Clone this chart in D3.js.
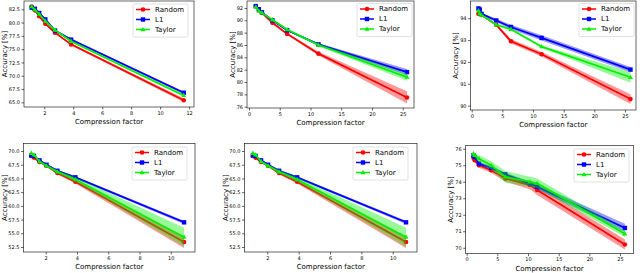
<!DOCTYPE html>
<html>
<head>
<meta charset="utf-8">
<script src="https://cdn.jsdelivr.net/npm/d3@7"></script>
<style>
  body { margin: 0; background: #fff; }
  svg text { font-family: "DejaVu Sans", sans-serif; }
</style>
</head>
<body>
<div class="chart"></div>
<script>
// ---- data ----
const seriesNames = ["Random", "L1", "Taylor"];

// top-left panel
const xA = [1.13, 1.35, 1.65, 2.07, 2.74, 3.85, 11.63];
const randomA = [83.0, 82.3, 81.2, 79.8, 78.1, 75.9, 65.4];
const l1A = [82.8, 82.6, 81.8, 80.6, 78.5, 76.8, 66.8];
const taylorA = [83.0, 82.4, 81.6, 80.3, 78.6, 76.5, 66.3];
const randomErrA = [0.2, 0.2, 0.2, 0.2, 0.2, 0.2, 0.35];
const l1ErrA = [0.2, 0.2, 0.2, 0.2, 0.2, 0.2, 0.25];
const taylorErrA = [0.15, 0.15, 0.15, 0.15, 0.15, 0.15, 0.25];

// top-middle panel
const xB = [1.1, 1.6, 2.1, 3.8, 6.2, 11.3, 25.7];
const randomB = [92.3, 91.6, 91.2, 89.6, 87.8, 84.6, 77.5];
const l1B = [92.3, 91.8, 91.3, 90.0, 88.4, 86.1, 81.6];
const taylorB = [92.2, 91.5, 91.2, 90.1, 88.5, 86.0, 80.8];
const randomErrB = [0.1, 0.1, 0.1, 0.15, 0.2, 0.3, 1.0];
const l1ErrB = [0.1, 0.1, 0.1, 0.1, 0.15, 0.2, 0.5];
const taylorErrB = [0.1, 0.1, 0.1, 0.1, 0.15, 0.2, 0.6];

// top-right panel
const xC = [1.1, 1.3, 1.6, 4.0, 6.4, 11.4, 25.9];
const randomC = [94.2, 94.4, 94.15, 93.7, 92.95, 92.35, 90.3];
const l1C = [94.45, 94.4, 94.2, 93.9, 93.6, 93.1, 91.65];
const taylorC = [94.35, 94.2, 94.15, 93.7, 93.5, 92.7, 91.3];
const randomErrC = [0.05, 0.05, 0.05, 0.06, 0.1, 0.1, 0.22];
const l1ErrC = [0.05, 0.05, 0.05, 0.08, 0.1, 0.12, 0.12];
const taylorErrC = [0.03, 0.03, 0.03, 0.05, 0.05, 0.05, 0.25];

// bottom-left and bottom-middle panels (same data)
const xD = [1.08, 1.25, 1.6, 2.05, 2.75, 3.9, 10.85];
const randomD = [69.1, 68.8, 68.0, 67.3, 66.0, 64.4, 53.4];
const l1D = [69.2, 69.1, 68.3, 67.5, 66.4, 65.2, 57.0];
const taylorD = [69.6, 69.3, 68.1, 67.3, 66.2, 64.8, 54.3];
const randomErrD = [0.2, 0.2, 0.2, 0.2, 0.3, 0.3, 1.1];
const l1ErrD = [0.2, 0.2, 0.2, 0.2, 0.2, 0.2, 0.3];
const taylorErrD = [0.2, 0.2, 0.2, 0.2, 0.3, 0.4, 1.7];

// bottom-right panel
const xF = [1.1, 1.3, 2.0, 4.0, 6.3, 10.3, 11.5, 25.8];
const randomF = [75.45, 75.3, 75.0, 74.7, 74.2, 73.8, 73.5, 70.2];
const l1F = [75.6, 75.5, 75.1, 74.85, 74.45, 73.9, 73.7, 71.2];
const taylorF = [75.7, 75.6, 75.4, 75.0, 74.3, 74.0, 73.9, 70.85];
const randomErrF = [0.15, 0.15, 0.15, 0.15, 0.2, 0.25, 0.3, 0.3];
const l1ErrF = [0.1, 0.1, 0.1, 0.1, 0.1, 0.12, 0.15, 0.25];
const taylorErrF = [0.15, 0.15, 0.2, 0.25, 0.35, 0.3, 0.3, 0.2];

const xTicksA = [2, 4, 6, 8, 10, 12];
const yTicksA = [65.0, 67.5, 70.0, 72.5, 75.0, 77.5, 80.0, 82.5];
const xTicks25 = [0, 5, 10, 15, 20, 25];
const yTicksB = [76, 78, 80, 82, 84, 86, 88, 90, 92];
const yTicksC = [90, 91, 92, 93, 94];
const xTicksD = [2, 4, 6, 8, 10];
const yTicksD = [52.5, 55.0, 57.5, 60.0, 62.5, 65.0, 67.5, 70.0];
const yTicksF = [70, 71, 72, 73, 74, 75, 76];

const colors = ["#ff0000", "#0000ff", "#00f000"];

// ---- layout ----
const panels = [
  {x: xA, ys: [randomA, l1A, taylorA], errs: [randomErrA, l1ErrA, taylorErrA],
   box: [24, 194, 1, 107], xd: [0.6, 12.34], yd: [64.12, 84.06],
   xt: xTicksA, yt: yTicksA, yf: ".1f", leg: [133, 4], ylab: 5},
  {x: xB, ys: [randomB, l1B, taylorB], errs: [randomErrB, l1ErrB, taylorErrB],
   box: [247, 414, 1, 108], xd: [-0.33, 26.84], yd: [75.79, 93.13],
   xt: xTicks25, yt: yTicksB, yf: "d", leg: [357, 3.5], ylab: 233},
  {x: xC, ys: [randomC, l1C, taylorC], errs: [randomErrC, l1ErrC, taylorErrC],
   box: [470.5, 636, 1, 110], xd: [-0.2, 26.8], yd: [89.8, 94.79],
   xt: xTicks25, yt: yTicksC, yf: "d", leg: [579, 3.5], ylab: 456},
  {x: xD, ys: [randomD, l1D, taylorD], errs: [randomErrD, l1ErrD, taylorErrD],
   box: [23.5, 195, 143.5, 252], xd: [0.58, 11.55], yd: [51.59, 71.37],
   xt: xTicksD, yt: yTicksD, yf: ".1f", leg: [132, 147], ylab: 5},
  {x: xD, ys: [randomD, l1D, taylorD], errs: [randomErrD, l1ErrD, taylorErrD],
   box: [244.5, 417, 143.5, 252], xd: [0.545, 11.55], yd: [51.59, 71.37],
   xt: xTicksD, yt: yTicksD, yf: ".1f", leg: [353, 147], ylab: 226},
  {x: xF, ys: [randomF, l1F, taylorF], errs: [randomErrF, l1ErrF, taylorErrF],
   box: [465.7, 633.3, 145.3, 253.7], xd: [-0.16, 27.17], yd: [69.64, 76.21],
   xt: xTicks25, yt: yTicksF, yf: "d", leg: [574, 149], ylab: 451}
];

const svg = d3.select(".chart").append("svg")
  .attr("width", 640).attr("height", 273);

function drawMarker(g, i, cx, cy, color) {
  if (i === 0) {
    g.append("circle").attr("cx", cx).attr("cy", cy).attr("r", 2.3).attr("fill", color);
  } else if (i === 1) {
    g.append("rect").attr("x", cx - 2.2).attr("y", cy - 2.2).attr("width", 4.4).attr("height", 4.4).attr("fill", color);
  } else {
    g.append("path").attr("d", `M${cx},${cy - 2.6}L${cx + 2.5},${cy + 1.7}L${cx - 2.5},${cy + 1.7}Z`).attr("fill", color);
  }
}

panels.forEach(p => {
  const [l, r, t, b] = p.box;
  const x = d3.scaleLinear().domain(p.xd).range([l, r]);
  const y = d3.scaleLinear().domain(p.yd).range([b, t]);
  const g = svg.append("g");

  const clipId = "clip" + Math.round(l) + "_" + Math.round(t);
  g.append("clipPath").attr("id", clipId).append("rect")
    .attr("x", l).attr("y", t).attr("width", r - l).attr("height", b - t);
  const plot = g.append("g").attr("clip-path", `url(#${clipId})`);

  p.ys.forEach((ys, i) => {
    const pts = p.x.map((xv, k) => ({x: xv, y: ys[k], e: p.errs[i][k]}));
    plot.append("path").datum(pts)
      .attr("d", d3.area().x(d => x(d.x)).y0(d => y(d.y - d.e)).y1(d => y(d.y + d.e)))
      .attr("fill", colors[i]).attr("opacity", 0.4);
    plot.append("path").datum(pts)
      .attr("d", d3.line().x(d => x(d.x)).y(d => y(d.y)))
      .attr("fill", "none").attr("stroke", colors[i]).attr("stroke-width", 1.7);
    pts.forEach(d => drawMarker(plot, i, x(d.x), y(d.y), colors[i]));
  });

  // axes
  const xAxis = d3.axisBottom(x).tickValues(p.xt).tickSize(2.5).tickPadding(1.5).tickFormat(d3.format("d"));
  const yAxis = d3.axisLeft(y).tickValues(p.yt).tickSize(2.5).tickPadding(1.5).tickFormat(d3.format(p.yf));
  const gx = g.append("g").attr("transform", `translate(0,${b})`).call(xAxis);
  const gy = g.append("g").attr("transform", `translate(${l},0)`).call(yAxis);
  [gx, gy].forEach(a => {
    a.select(".domain").remove();
    a.selectAll("text").attr("font-size", 5).attr("fill", "#000");
    a.selectAll("line").attr("stroke", "#000").attr("stroke-width", 0.6);
  });

  g.append("rect").attr("x", l).attr("y", t).attr("width", r - l).attr("height", b - t)
    .attr("fill", "none").attr("stroke", "#000").attr("stroke-width", 0.6);

  g.append("text")
    .attr("x", (l + r) / 2).attr("y", b + 17)
    .attr("text-anchor", "middle").attr("font-size", 7)
    .text("Compression factor");

  g.append("text")
    .attr("transform", `translate(${p.ylab},${(t + b) / 2}) rotate(-90)`)
    .attr("text-anchor", "middle").attr("dominant-baseline", "central")
    .attr("font-size", 7)
    .text("Accuracy [%]");

  // legend
  const [lx, ly] = p.leg;
  const lg = g.append("g");
  lg.append("rect").attr("x", lx).attr("y", ly).attr("width", 55).attr("height", 33)
    .attr("rx", 1.5).attr("fill", "#fff").attr("fill-opacity", 0.8)
    .attr("stroke", "#ccc").attr("stroke-width", 0.6);
  seriesNames.forEach((name, i) => {
    const cy = ly + 5.5 + i * 10;
    lg.append("line").attr("x1", lx + 3).attr("x2", lx + 17).attr("y1", cy).attr("y2", cy)
      .attr("stroke", colors[i]).attr("stroke-width", 1.5);
    drawMarker(lg, i, lx + 10, cy, colors[i]);
    lg.append("text").attr("x", lx + 22).attr("y", cy)
      .attr("dominant-baseline", "central").attr("font-size", 7)
      .text(name);
  });
});
</script>
</body>
</html>
